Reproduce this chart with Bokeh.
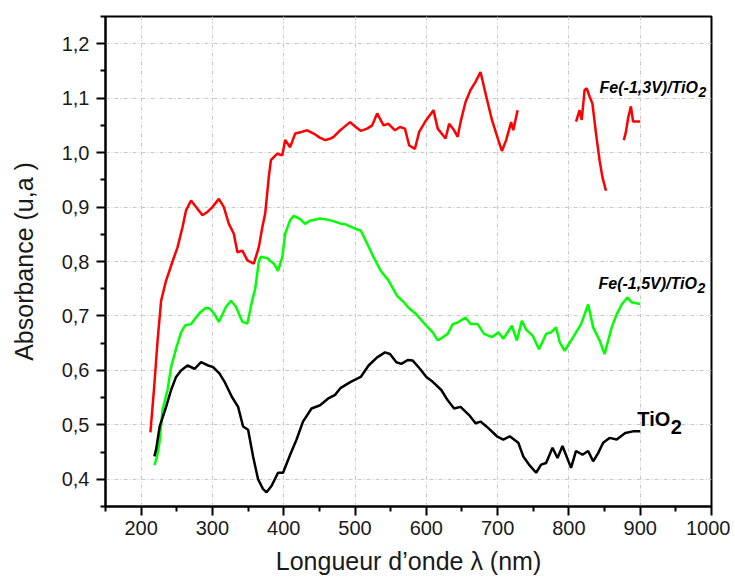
import math
from bokeh.plotting import figure
from bokeh.models import FixedTicker, Label, Range1d
from bokeh.embed import file_html
from bokeh.resources import INLINE

NAN = float("nan")

# Fe(-1,3V)/TiO2 (red) - gaps marked with NaN
red_nm = [213, 218.6, 223, 228, 235, 244, 251, 258, 263, 270, 277, 286, 293, 300, 309, 316,
          323, 330, 335, 342, 349, 358, 365, 370, 374, 379, 382, 391, 398, 402, 409, 416,
          425, 433, 442, 450, 458, 466, 470, 479, 482, 493, 501, 508, 517, 524, 531, 540,
          547, 556, 563, 570, 576, 584, 590, 600, 610, 616, 627, 632, 639, 644, 648, 655,
          662, 669, 676, 683, 692, 701, 706, 712, 719, 722, 728,
          NAN,
          810, 815, 818, 822, 825, 829, 833, 838, 843, 847, 852,
          NAN,
          877, 880, 883, 887, 890, 900]
red_abs = [0.486, 0.575, 0.654, 0.728, 0.765, 0.800, 0.826, 0.863, 0.894, 0.912, 0.900, 0.885,
           0.891, 0.900, 0.915, 0.900, 0.869, 0.851, 0.817, 0.820, 0.802, 0.796, 0.826, 0.863,
           0.888, 0.955, 0.986, 0.998, 0.995, 1.023, 1.010, 1.035, 1.038, 1.041, 1.035, 1.028,
           1.023, 1.026, 1.029, 1.041, 1.044, 1.056, 1.047, 1.040, 1.044, 1.050, 1.072, 1.050,
           1.053, 1.041, 1.047, 1.044, 1.013, 1.007, 1.038, 1.060, 1.078, 1.044, 1.026, 1.053,
           1.041, 1.029, 1.056, 1.093, 1.115, 1.130, 1.148, 1.109, 1.060, 1.023, 1.003, 1.023,
           1.056, 1.041, 1.078,
           NAN,
           1.057, 1.078, 1.060, 1.115, 1.118, 1.103, 1.090, 1.035, 0.986, 0.955, 0.930,
           NAN,
           1.023, 1.038, 1.063, 1.085, 1.057, 1.057]

# Fe(-1,5V)/TiO2 (green)
green_nm = [218.6, 222, 225.6, 230, 237, 242, 249, 256, 262, 270, 277, 283, 290, 296, 302, 309,
            319, 326, 333, 342, 349, 356, 360, 365, 368, 377, 386, 392, 398, 402, 409, 414,
            423, 430, 437, 451, 465, 479, 485, 501, 508, 517, 526, 536, 547, 559, 568, 575,
            586, 600, 609, 616, 623, 630, 637, 644, 655, 662, 672, 681, 692, 701, 708, 720,
            727, 734, 740, 749, 758, 768, 775, 782, 787, 794, 806, 817, 827, 834, 843, 850,
            860, 867, 874, 882, 888, 900]
green_abs = [0.426, 0.440, 0.467, 0.527, 0.564, 0.606, 0.640, 0.670, 0.683, 0.685, 0.697, 0.707,
             0.714, 0.714, 0.705, 0.689, 0.717, 0.728, 0.717, 0.689, 0.686, 0.730, 0.750, 0.800,
             0.809, 0.806, 0.796, 0.783, 0.808, 0.851, 0.876, 0.884, 0.878, 0.869, 0.875, 0.879,
             0.876, 0.870, 0.869, 0.860, 0.857, 0.833, 0.808, 0.783, 0.765, 0.737, 0.726, 0.715,
             0.703, 0.682, 0.670, 0.655, 0.661, 0.667, 0.685, 0.688, 0.697, 0.685, 0.685, 0.667,
             0.661, 0.670, 0.658, 0.682, 0.655, 0.691, 0.675, 0.664, 0.639, 0.667, 0.670, 0.679,
             0.652, 0.636, 0.661, 0.685, 0.721, 0.679, 0.655, 0.630, 0.679, 0.703, 0.721, 0.734,
             0.725, 0.722]

# TiO2 (black)
black_nm = [218.6, 221, 226, 235, 242, 249, 256, 265, 275, 284, 294, 301, 310, 317, 327, 336,
            343, 350, 357, 364, 371, 376, 383, 392, 399, 409, 418, 427, 439, 451, 462, 472,
            480, 494, 508, 519, 531, 542, 549, 558, 565, 574, 581, 591, 600, 609, 621, 630,
            639, 648, 660, 669, 676, 687, 699, 708, 717, 729, 736, 744, 754, 761, 768, 777,
            784, 791, 803, 810, 819, 827, 834, 841, 848, 857, 867, 879, 890, 900]
black_abs = [0.442, 0.455, 0.497, 0.533, 0.564, 0.588, 0.600, 0.609, 0.603, 0.615, 0.609, 0.606,
             0.594, 0.579, 0.552, 0.533, 0.497, 0.491, 0.442, 0.400, 0.382, 0.376, 0.388, 0.412,
             0.412, 0.445, 0.473, 0.506, 0.530, 0.536, 0.548, 0.555, 0.568, 0.579, 0.588, 0.609,
             0.624, 0.633, 0.630, 0.615, 0.612, 0.619, 0.618, 0.603, 0.588, 0.579, 0.564, 0.545,
             0.530, 0.533, 0.518, 0.503, 0.506, 0.494, 0.479, 0.473, 0.479, 0.467, 0.442, 0.427,
             0.412, 0.427, 0.430, 0.458, 0.439, 0.461, 0.421, 0.452, 0.445, 0.452, 0.433, 0.448,
             0.467, 0.476, 0.473, 0.485, 0.488, 0.488]

x_ticks = [200, 300, 400, 500, 600, 700, 800, 900, 1000]
x_minor = [150, 250, 350, 450, 550, 650, 750, 850, 950]
y_ticks = [0.4, 0.5, 0.6, 0.7, 0.8, 0.9, 1.0, 1.1, 1.2]
y_minor = [0.35, 0.45, 0.55, 0.65, 0.75, 0.85, 0.95, 1.05, 1.15, 1.25]
y_tick_labels = {v: f"{v:.1f}".replace(".", ",") for v in y_ticks}

FONT = "Liberation Sans"

p = figure(width=730, height=581, output_backend="svg", toolbar_location=None,
           x_range=Range1d(150, 1000), y_range=Range1d(0.35, 1.25),
           min_border_left=105, min_border_right=19, min_border_top=16, min_border_bottom=75)
p.background_fill_color = "white"
p.border_fill_color = "white"
p.outline_line_color = "black"
p.outline_line_width = 2

p.line(red_nm, red_abs, line_color="#ff0000", line_width=2.5)
p.line(green_nm, green_abs, line_color="#00ff00", line_width=2.5)
p.line(black_nm, black_abs, line_color="black", line_width=2.5)

p.xaxis.ticker = FixedTicker(ticks=x_ticks, minor_ticks=x_minor)
p.yaxis.ticker = FixedTicker(ticks=y_ticks, minor_ticks=y_minor)
p.yaxis.major_label_overrides = y_tick_labels

for ax in (p.xaxis[0], p.yaxis[0]):
    ax.axis_line_width = 2
    ax.axis_line_color = "black"
    ax.major_tick_line_width = 2
    ax.minor_tick_line_width = 2
    ax.major_tick_line_color = "black"
    ax.minor_tick_line_color = "black"
    ax.major_tick_out = 9
    ax.major_tick_in = 0
    ax.minor_tick_out = 5
    ax.minor_tick_in = 0
    ax.major_label_text_font = FONT
    ax.major_label_text_font_size = "20px"
    ax.major_label_text_color = "#1a1a1a"
    ax.axis_label_text_font = FONT
    ax.axis_label_text_font_size = "25px"
    ax.axis_label_text_font_style = "normal"
    ax.axis_label_text_color = "#1a1a1a"

p.xaxis.axis_label = "Longueur d’onde λ (nm)"
p.yaxis.axis_label = "Absorbance (u,a )"
p.xaxis.major_label_standoff = 5
p.yaxis.major_label_standoff = 7
p.xaxis.axis_label_standoff = 9
p.yaxis.axis_label_standoff = 21

for g in (p.xgrid[0], p.ygrid[0]):
    g.grid_line_color = "#c8c8c8"
    g.grid_line_width = 1
    g.grid_line_dash = "4 2 1 2"

def add_label(x, y, txt, size, style, xoff=0, yoff=0):
    p.add_layout(Label(x=x, y=y, text=txt, x_offset=xoff, y_offset=yoff,
                       text_font=FONT, text_font_size=size, text_font_style=style,
                       text_color="black", text_baseline="alphabetic", text_align="left"))

add_label(843, 1.119, "Fe(-1,3V)/TiO", "16px", "bold italic")
add_label(843, 1.119, "2", "14px", "bold italic", xoff=99, yoff=-4.5)
add_label(841.5, 0.7595, "Fe(-1,5V)/TiO", "16px", "bold italic")
add_label(841.5, 0.7595, "2", "14px", "bold italic", xoff=99, yoff=-4.5)
add_label(896, 0.51, "TiO", "20px", "bold")
add_label(896, 0.51, "2", "20px", "bold", xoff=33.5, yoff=-8)

open("out.html", "w").write(file_html(p, INLINE))
